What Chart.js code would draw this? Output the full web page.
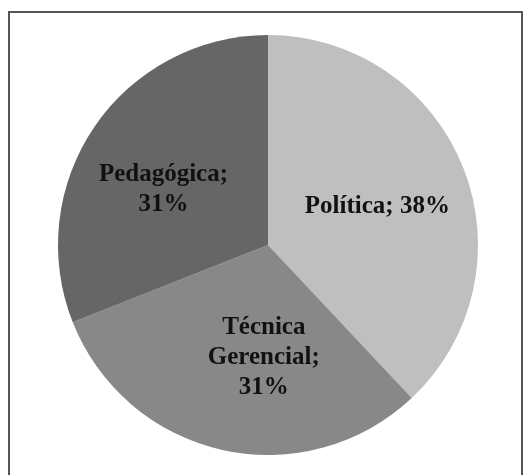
<!DOCTYPE html>
<html>
<head>
<meta charset="utf-8">
<script src="https://cdn.jsdelivr.net/npm/chart.js@4/dist/chart.umd.min.js"></script>
<style>
  html, body { margin: 0; padding: 0; background: #fff; }
  #wrap { position: relative; width: 531px; height: 475px; overflow: hidden; }
  #frame {
    position: absolute; left: 8px; top: 11px; width: 515px; height: 500px;
    border: 2px solid #555; box-sizing: border-box;
  }
  #c { position: absolute; left: 0; top: 0; }
</style>
</head>
<body>
<div id="wrap">
  <div id="frame"></div>
  <canvas id="c" width="531" height="475"></canvas>
</div>
<script>
const categories = ["Política", "Técnica Gerencial", "Pedagógica"];
const values = [38, 31, 31];
const labelLines = [["Política; 38%"], ["Técnica", "Gerencial;", "31%"], ["Pedagógica;", "31%"]];
const colors = ["#bfbfbf", "#888888", "#666666"];

document.addEventListener("DOMContentLoaded", () => {
  // draws the Excel-like labels inside each slice
  const sliceLabels = {
    id: "sliceLabels",
    afterDatasetsDraw(chart) {
      const ctx = chart.ctx;
      const meta = chart.getDatasetMeta(0);
      const nudge = [[2, 4], [21, 0], [-9, 9]];
      ctx.save();
      ctx.font = "bold 25px 'Liberation Serif', 'Times New Roman', serif";
      ctx.fillStyle = "#111";
      ctx.textAlign = "center";
      ctx.textBaseline = "middle";
      meta.data.forEach((arc, i) => {
        const p = arc.getProps(["startAngle", "endAngle", "outerRadius", "x", "y"], true);
        const mid = (p.startAngle + p.endAngle) / 2;
        const r = p.outerRadius * 0.55;
        const x = p.x + Math.cos(mid) * r + nudge[i][0];
        const y = p.y + Math.sin(mid) * r + nudge[i][1];
        const lines = labelLines[i];
        const lh = 30;
        lines.forEach((t, k) => {
          ctx.fillText(t, x, y + (k - (lines.length - 1) / 2) * lh);
        });
      });
      ctx.restore();
    }
  };

  new Chart(document.getElementById("c").getContext("2d"), {
    type: "pie",
    data: {
      labels: categories,
      datasets: [
        {
          data: values,
          backgroundColor: colors,
          borderWidth: 0,
        },
      ],
    },
    options: {
      responsive: false,
      animation: false,
      devicePixelRatio: 1,
      layout: { padding: { left: 58, right: 53, top: 35, bottom: 20 } },
      plugins: {
        legend: { display: false },
        tooltip: { enabled: false },
      },
    },
    plugins: [sliceLabels],
  });
});
</script>
</body>
</html>
